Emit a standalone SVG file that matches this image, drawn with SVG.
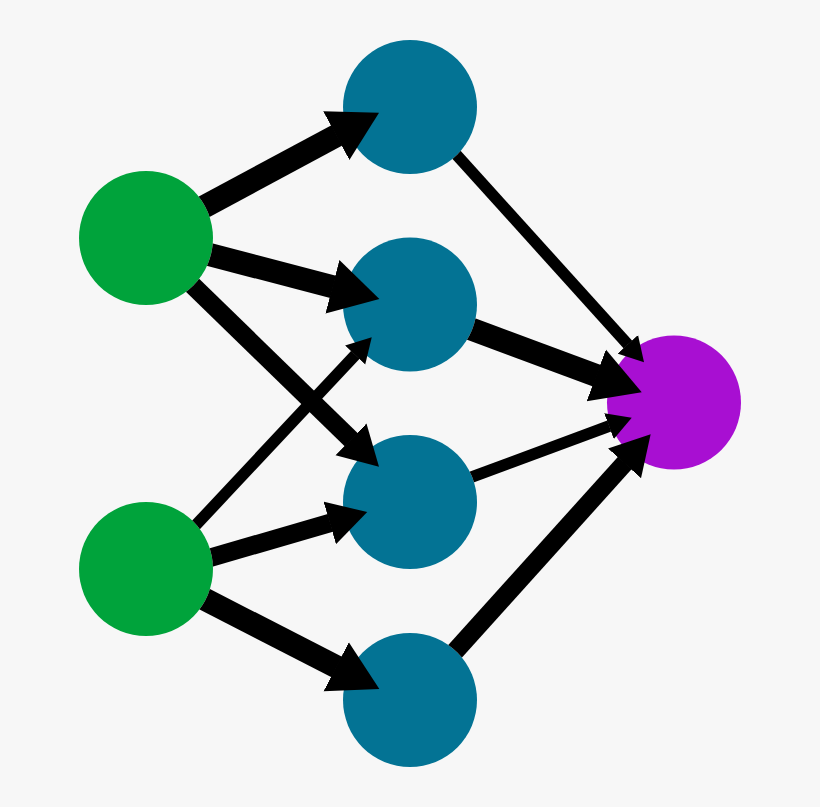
<svg xmlns="http://www.w3.org/2000/svg" width="820" height="807" viewBox="0 0 820 807">
  <style>
    .input { fill: #00a33b; }
    .hidden { fill: #037394; }
    .output { fill: #a80fd2; }
    .edge { stroke: #000; fill: none; stroke-linecap: butt; marker-end: url(#head); }
    .w23 { stroke-width: 23; }
    .w18 { stroke-width: 18.500; }
    .w11 { stroke-width: 11.500; }
  </style>
  <defs>
    <marker id="head" markerUnits="strokeWidth" markerWidth="2.2" markerHeight="2.5" viewBox="0 0 2.2 2.5" refX="0.03" refY="1.25" orient="auto">
      <path d="M0 .05L2.110 1.25L0 2.450Z" fill="#000"/>
    </marker>
    <clipPath id="off-i1"><path clip-rule="evenodd" d="M0 0H820V807H0ZM79 238a67 67 0 1 0 134 0a67 67 0 1 0-134 0Z"/></clipPath>
    <clipPath id="off-i2"><path clip-rule="evenodd" d="M0 0H820V807H0ZM79 569a67 67 0 1 0 134 0a67 67 0 1 0-134 0Z"/></clipPath>
    <clipPath id="off-h1"><path clip-rule="evenodd" d="M0 0H820V807H0ZM343 107a67 67 0 1 0 134 0a67 67 0 1 0-134 0Z"/></clipPath>
    <clipPath id="off-h2"><path clip-rule="evenodd" d="M0 0H820V807H0ZM343 304.500a67 67 0 1 0 134 0a67 67 0 1 0-134 0Z"/></clipPath>
    <clipPath id="off-h3"><path clip-rule="evenodd" d="M0 0H820V807H0ZM343 502a67 67 0 1 0 134 0a67 67 0 1 0-134 0Z"/></clipPath>
    <clipPath id="off-h4"><path clip-rule="evenodd" d="M0 0H820V807H0ZM343 700a67 67 0 1 0 134 0a67 67 0 1 0-134 0Z"/></clipPath>
  </defs>
  <rect width="820" height="807" fill="#f7f7f7"/>
  <g id="node-input-1"><circle class="input" cx="146" cy="238" r="67"/></g>
  <g id="node-input-2"><circle class="input" cx="146" cy="569" r="67"/></g>
  <g id="node-hidden-1"><circle class="hidden" cx="410" cy="107" r="67"/></g>
  <g id="node-hidden-2"><circle class="hidden" cx="410" cy="304.500" r="67"/></g>
  <g id="node-hidden-3"><circle class="hidden" cx="410" cy="502" r="67"/></g>
  <g id="node-hidden-4"><circle class="hidden" cx="410" cy="700" r="67"/></g>
  <g id="node-output"><circle class="output" cx="674" cy="402.500" r="67"/></g>
  <g id="connectors">
    <line class="edge w23" clip-path="url(#off-i1)" x1="146" y1="238" x2="336.900" y2="135.300"/>
    <line class="edge w23" clip-path="url(#off-i1)" x1="146" y1="238" x2="333.100" y2="286.900"/>
    <line class="edge w18" clip-path="url(#off-i1)" x1="142.600" y1="236.700" x2="351.400" y2="439.800"/>
    <line class="edge w11" clip-path="url(#off-i2)" x1="148.800" y1="575.300" x2="355.400" y2="354.800"/>
    <line class="edge w18" clip-path="url(#off-i2)" x1="144.800" y1="576.800" x2="330.300" y2="522.800"/>
    <line class="edge w23" clip-path="url(#off-i2)" x1="146" y1="569" x2="336.800" y2="667.100"/>
    <line class="edge w11" clip-path="url(#off-h1)" x1="409.800" y1="103.100" x2="628" y2="344.600"/>
    <line class="edge w23" clip-path="url(#off-h2)" x1="406.100" y1="304.800" x2="596.900" y2="375.700"/>
    <line class="edge w11" clip-path="url(#off-h3)" x1="406.900" y1="501" x2="609.300" y2="426"/>
    <line class="edge w18" clip-path="url(#off-h4)" x1="409.400" y1="702" x2="624.900" y2="462.900"/>
  </g>
</svg>
